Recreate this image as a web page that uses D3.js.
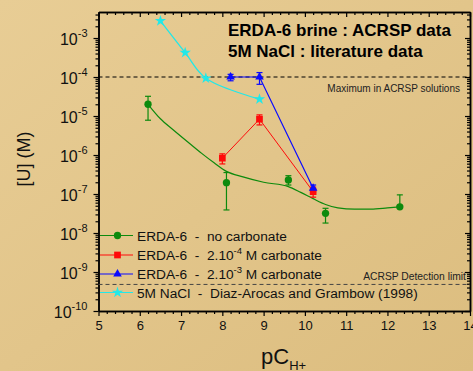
<!DOCTYPE html>
<html><head><meta charset="utf-8">
<script src="https://cdn.jsdelivr.net/npm/d3@7"></script>
<style>body{margin:0;overflow:hidden;background:#e3c68b} svg{display:block} text{font-family:"Liberation Sans",Arial,sans-serif}</style>
</head><body><svg id="c" width="473" height="371"></svg>
<script>
// ---- data ----
const xTicks = [5,6,7,8,9,10,11,12,13,14];
const yExps = [-10,-9,-8,-7,-6,-5,-4,-3];

const greenX  = [6.2, 8.1, 9.6, 10.5, 12.3];
const greenY  = [2.0e-5, 1.95e-7, 2.3e-7, 3.2e-8, 4.7e-8];
const greenLo = [7.8e-6, 3.9e-8, 1.7e-7, 1.8e-8, 4.4e-8];
const greenHi = [3.2e-5, 3.55e-7, 2.95e-7, 4.3e-8, 9.5e-8];

const greenFitX = [6.2,6.5,6.8,7.2,7.5,7.8,8.1,8.5,9.0,9.6,9.9,10.2,10.5,10.8,11.2,11.6,12.0,12.3];
const greenFitY = [2.0e-5,8.5e-6,4.5e-6,2.0e-6,1.1e-6,6.3e-7,3.8e-7,2.75e-7,2.0e-7,1.55e-7,1.1e-7,7.6e-8,5.4e-8,4.4e-8,4.1e-8,4.1e-8,4.4e-8,4.7e-8];

const redX  = [8.0, 8.9, 10.2];
const redY  = [8.3e-7, 8.3e-6, 1.15e-7];
const redLo = [5.9e-7, 5.9e-6, 8.3e-8];
const redHi = [1.07e-6, 1.07e-5, 1.5e-7];

const blueX  = [8.2, 8.9, 10.2];
const blueY  = [1.0e-4, 1.0e-4, 1.4e-7];
const blueLo = [8.0e-5, 6.5e-5, 1.15e-7];
const blueHi = [1.17e-4, 1.3e-4, 1.7e-7];

const cyanX = [6.5, 7.1, 7.6, 8.9];
const cyanY = [2.75e-3, 4.2e-4, 9.3e-5, 2.7e-5];

const maxLevel = 1e-4;
const detLimit = 4.8e-10;

const legendLabels = [
  ["ERDA-6  -  no carbonate"],
  ["ERDA-6  -  2.10", "-4", " M carbonate"],
  ["ERDA-6  -  2.10", "-3", " M carbonate"],
  ["5M NaCl  -  Diaz-Arocas and Grambow (1998)"]
];
const titleLines = ["ERDA-6 brine : ACRSP data", "5M NaCl : literature data"];

// ---- drawing ----
const svg = d3.select("#c");
const defs = svg.append("defs");
const grad = defs.append("linearGradient").attr("id","bg").attr("x1","0").attr("y1","0").attr("x2","1").attr("y2","1");
grad.append("stop").attr("offset","0").attr("stop-color","#e8cd95");
grad.append("stop").attr("offset","1").attr("stop-color","#dcbd7f");
svg.append("rect").attr("width",473).attr("height",371).attr("fill","url(#bg)");

const L=98.5, R=470, T=12, B=311;
const x = d3.scaleLinear().domain([5,14]).range([L,R]);
const y = d3.scaleLog().domain([1e-10, Math.pow(10,-2.333)]).range([B,T]);

// minor ticks
const xMinor = d3.range(5,14.001,0.2).filter(v=>Math.abs(v-Math.round(v))>1e-6);
const yMinor = [];
yExps.forEach(e=>{ for(let k=2;k<=9;k++){ const v=k*Math.pow(10,e); if(v<y.domain()[1]) yMinor.push(v);} });
const yMajor = yExps.map(e=>Math.pow(10,e));

function styleAxis(g){ g.selectAll("path,line").attr("stroke","#000").attr("stroke-width",1.2); g.select(".domain").attr("stroke-width",1.5); }

// bottom
svg.append("g").attr("transform",`translate(0,${B})`)
  .call(d3.axisBottom(x).tickValues(xMinor).tickSize(3).tickSizeOuter(0).tickFormat(""))
  .call(styleAxis);
const gb = svg.append("g").attr("transform",`translate(0,${B})`)
  .call(d3.axisBottom(x).tickValues(xTicks).tickSize(5).tickSizeOuter(0).tickFormat(d3.format("d")))
  .call(styleAxis);
gb.selectAll("text").attr("font-size",13).attr("fill","#111").attr("dy","0.9em").attr("y",7).attr("font-family","Liberation Sans, Arial, sans-serif");
// top
svg.append("g").attr("transform",`translate(0,${T})`)
  .call(d3.axisTop(x).tickValues(xMinor).tickSize(-3).tickSizeOuter(0).tickFormat(""))
  .call(styleAxis);
svg.append("g").attr("transform",`translate(0,${T})`)
  .call(d3.axisTop(x).tickValues(xTicks).tickSize(-5).tickSizeOuter(0).tickFormat(""))
  .call(styleAxis);
// left
svg.append("g").attr("transform",`translate(${L},0)`)
  .call(d3.axisLeft(y).tickValues(yMinor).tickSize(3).tickSizeOuter(0).tickFormat(""))
  .call(styleAxis);
const gl = svg.append("g").attr("transform",`translate(${L},0)`)
  .call(d3.axisLeft(y).tickValues(yMajor).tickSize(5).tickSizeOuter(0).tickFormat(""))
  .call(styleAxis);
gl.selectAll(".tick").each(function(d){
  const e = Math.round(Math.log10(d));
  const t = d3.select(this).append("text").attr("fill","#111").attr("text-anchor","end").attr("x",-11).attr("y",6.5).attr("font-size",16);
  t.append("tspan").text("10");
  t.append("tspan").attr("font-size",11).attr("dy",-8).text(String(e));
});
// right
svg.append("g").attr("transform",`translate(${R},0)`)
  .call(d3.axisRight(y).tickValues(yMinor).tickSize(-3).tickSizeOuter(0).tickFormat(""))
  .call(styleAxis);
svg.append("g").attr("transform",`translate(${R},0)`)
  .call(d3.axisRight(y).tickValues(yMajor).tickSize(-5).tickSizeOuter(0).tickFormat(""))
  .call(styleAxis);

// reference lines
svg.append("line").attr("x1",L).attr("x2",R).attr("y1",y(maxLevel)).attr("y2",y(maxLevel))
  .attr("stroke","#000").attr("stroke-width",1).attr("stroke-dasharray","4,3");
svg.append("line").attr("x1",L).attr("x2",R).attr("y1",y(detLimit)).attr("y2",y(detLimit))
  .attr("stroke","#444").attr("stroke-width",1).attr("stroke-dasharray","4,3");
svg.append("text").attr("x",460).attr("y",y(maxLevel)+15).attr("text-anchor","end").attr("font-size",10).attr("fill","#222").text("Maximum in ACRSP solutions");
svg.append("text").attr("x",466).attr("y",y(detLimit)-4).attr("text-anchor","end").attr("font-size",10.3).attr("fill","#222").text("ACRSP Detection limit");

const cG="#0d8a0d", cR="#ff0a0a", cB="#0a0aff", cC="#22e8e8";
const zip=(a,b)=>a.map((v,i)=>[v,b[i]]);

// lines
svg.append("path").datum(zip(greenFitX,greenFitY)).attr("fill","none").attr("stroke",cG).attr("stroke-width",1.2)
  .attr("d",d3.line().x(d=>x(d[0])).y(d=>y(d[1])).curve(d3.curveMonotoneX));
svg.append("path").datum(zip(cyanX,cyanY)).attr("fill","none").attr("stroke",cC).attr("stroke-width",1.3)
  .attr("d",d3.line().x(d=>x(d[0])).y(d=>y(d[1])).curve(d3.curveCatmullRom));
svg.append("path").datum(zip(redX,redY)).attr("fill","none").attr("stroke",cR).attr("stroke-width",1)
  .attr("d",d3.line().x(d=>x(d[0])).y(d=>y(d[1])));
svg.append("path").datum(zip(blueX,blueY)).attr("fill","none").attr("stroke",cB).attr("stroke-width",1.2)
  .attr("d",d3.line().x(d=>x(d[0])).y(d=>y(d[1])));

function errBars(X,Lo,Hi,col){
  const g=svg.append("g").attr("stroke",col).attr("stroke-width",1.2);
  X.forEach((v,i)=>{
    const px=x(v);
    g.append("line").attr("x1",px).attr("x2",px).attr("y1",y(Lo[i])).attr("y2",y(Hi[i]));
    g.append("line").attr("x1",px-3).attr("x2",px+3).attr("y1",y(Lo[i])).attr("y2",y(Lo[i]));
    g.append("line").attr("x1",px-3).attr("x2",px+3).attr("y1",y(Hi[i])).attr("y2",y(Hi[i]));
  });
}
errBars(greenX,greenLo,greenHi,cG);
errBars(redX,redLo,redHi,cR);
errBars(blueX,blueLo,blueHi,cB);

const symCircle=d3.symbol().type(d3.symbolCircle).size(42);
const symSquare=d3.symbol().type(d3.symbolSquare).size(45);
const symTri=d3.symbol().type(d3.symbolTriangle).size(32);
const symStar=d3.symbol().type(d3.symbolStar).size(40);
function markers(X,Y,sym,col){
  svg.append("g").selectAll("path").data(zip(X,Y)).join("path")
    .attr("transform",d=>`translate(${x(d[0])},${y(d[1])})`).attr("d",sym).attr("fill",col);
}
markers(greenX,greenY,symCircle,cG);
markers(redX,redY,symSquare,cR);
markers(blueX,blueY,symTri,cB);
markers(cyanX,cyanY,symStar,cC);

// title
titleLines.forEach((t,i)=>{
  svg.append("text").attr("x",228).attr("y",35.5+i*21.7).attr("font-size",17).attr("font-weight","bold").attr("fill","#000").text(t);
});

// legend
const legRows=[235.5,255,274,292.5];
const legCols=[cG,cR,cB,cC];
const legSyms=[symCircle,symSquare,symTri,symStar];
legendLabels.forEach((parts,i)=>{
  const yy=legRows[i];
  svg.append("line").attr("x1",100).attr("x2",133).attr("y1",yy).attr("y2",yy).attr("stroke",legCols[i]).attr("stroke-width",1.2);
  svg.append("path").attr("transform",`translate(117.5,${yy})`).attr("d",legSyms[i]).attr("fill",legCols[i]);
  const t=svg.append("text").attr("x",137).attr("y",yy+5).attr("font-size",13.7).attr("fill","#111").style("white-space","pre");
  t.append("tspan").text(parts[0]);
  if(parts.length>1){
    t.append("tspan").attr("font-size",9.5).attr("dy",-6).text(parts[1]);
    t.append("tspan").attr("dy",6).text(parts[2]);
  }
});

// axis titles
svg.append("text").attr("transform","translate(30,159) rotate(-90)").attr("text-anchor","middle").attr("font-size",18).attr("fill","#111").text("[U] (M)");
const xt=svg.append("text").attr("x",261).attr("y",364).attr("font-size",22).attr("fill","#111");
xt.append("tspan").text("pC");
xt.append("tspan").attr("font-size",13).attr("dy",5.5).text("H+");
</script></body></html>
